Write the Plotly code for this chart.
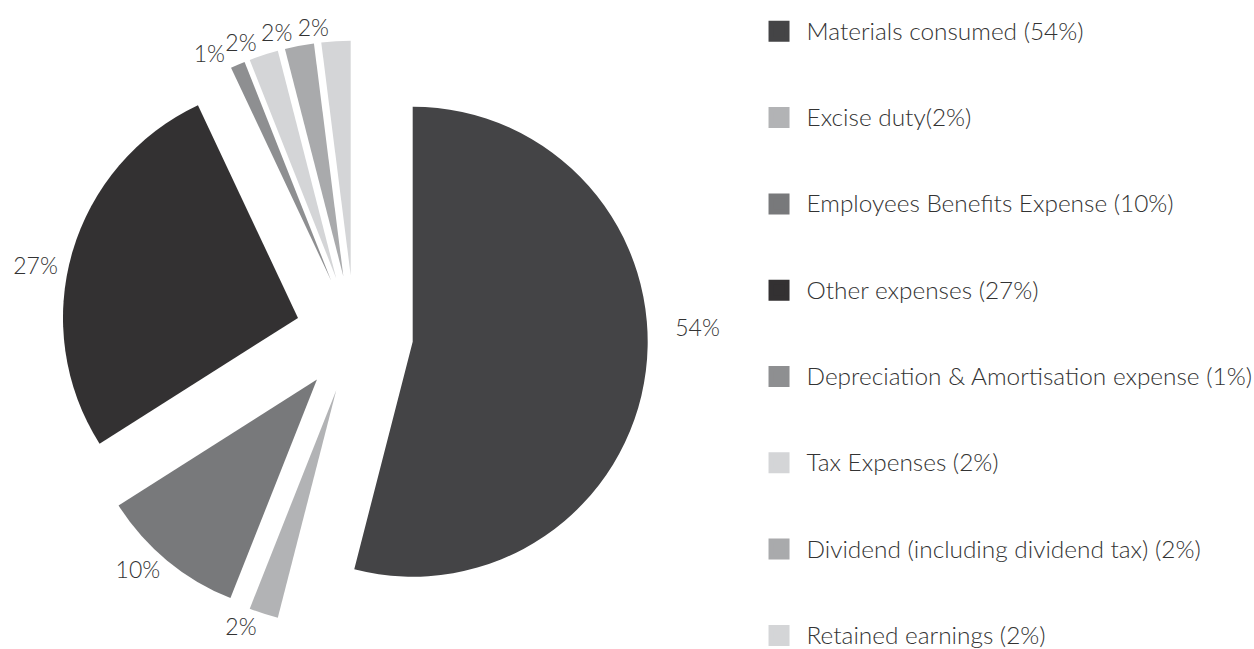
import plotly.graph_objects as go

labels = [
    "Materials consumed (54%)",
    "Excise duty(2%)",
    "Employees Benefits Expense (10%)",
    "Other expenses (27%)",
    "Depreciation & Amortisation expense (1%)",
    "Tax Expenses (2%)",
    "Dividend (including dividend tax) (2%)",
    "Retained earnings (2%)",
]
values = [54, 2, 10, 27, 1, 2, 2, 2]
colors = ["#444446", "#b2b3b5", "#78797b", "#333132", "#8e8f91", "#d4d5d7", "#a9aaac", "#d4d5d7"]
# which pie layer carries each slice's percent label (separate layers keep the
# small top labels from being stacked with leader lines)
label_layer = [0, 0, 0, 0, 0, 1, 2, 3]
# blank padding (lines below / above, thin spaces right) that nudge a few outside labels
pad_below = [3, 0, 0, 0, 0, 0, 0, 0]
pad_above = [0, 0, 0, 1, 0, 0, 0, 0]
pad_right = [0, 0, 0, 0, 2, 0, 0, 0]

FONT = "Lato"
WEIGHT = 300
TXT = "#333333"
PULL = 0.25
DOMAIN = dict(x=[0.0, 0.56524], y=[0.03228, 0.93752])

templates = [
    "&nbsp;<br>" * a + "%{percent:.0%}" + "\u2009" * r + "<br>&nbsp;" * b
    for a, b, r in zip(pad_above, pad_below, pad_right)
]

fig = go.Figure()

n_layers = max(label_layer) + 1
for layer in range(n_layers):
    fig.add_trace(go.Pie(
        labels=labels,
        values=values,
        sort=False,
        direction="clockwise",
        rotation=0,
        pull=[PULL] * len(values),
        marker=dict(colors=colors if layer == 0 else ["rgba(0,0,0,0)"] * len(values),
                    line=dict(width=0)),
        textinfo="percent",
        texttemplate=templates,
        textposition=["outside" if l == layer else "none" for l in label_layer],
        outsidetextfont=dict(family=FONT, size=23, color=TXT, weight=WEIGHT),
        showlegend=False,
        hoverinfo="label+percent" if layer == 0 else "skip",
        domain=DOMAIN,
    ))

for i, (lab, col) in enumerate(zip(labels, colors)):
    fig.add_trace(go.Scatter(
        x=[None], y=[None], mode="markers",
        name=f"<span style='font-size:24.4px'>{lab}</span>",
        legendgroup=f"g{i}",
        marker=dict(symbol="square", size=16, color=col, line=dict(width=5, color=col)),
    ))

fig.update_layout(
    width=1254, height=649,
    margin=dict(l=0, r=0, t=0, b=0, autoexpand=False),
    paper_bgcolor="white", plot_bgcolor="white",
    xaxis=dict(visible=False), yaxis=dict(visible=False),
    legend=dict(
        x=0.5993, xanchor="left", y=0.98384, yanchor="top",
        font=dict(family=FONT, size=22, color=TXT, weight=WEIGHT),
        tracegroupgap=54.7, itemwidth=45,
        bgcolor="rgba(0,0,0,0)", borderwidth=0,
        itemclick=False, itemdoubleclick=False,
    ),
    font=dict(family=FONT, color=TXT),
)

fig.write_html("out.html")
